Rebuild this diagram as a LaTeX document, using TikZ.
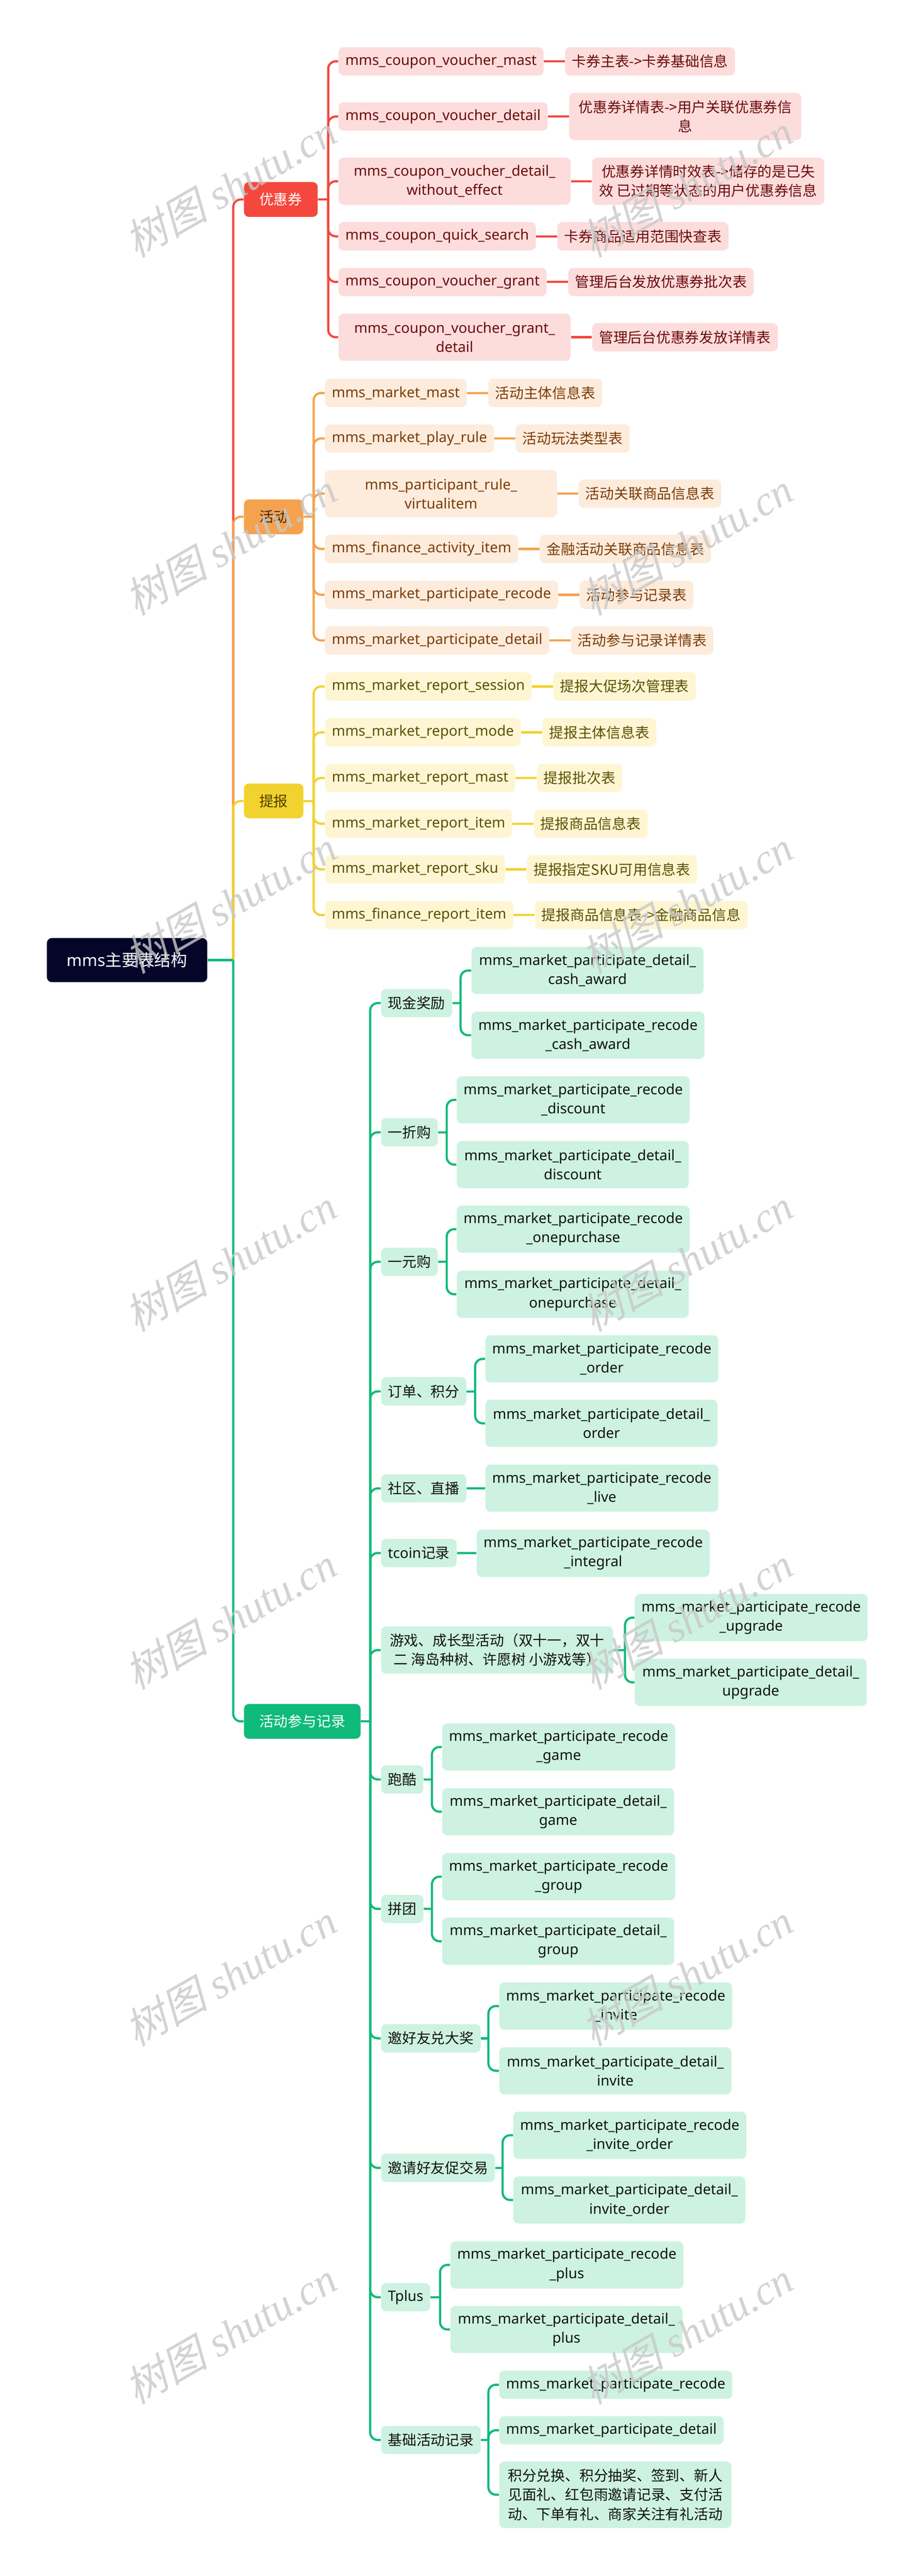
\documentclass[tikz,border=0pt]{standalone}
\usepackage{fontspec}
\setmainfont{Noto Sans}
\newfontfamily\cjk{Noto Sans CJK SC}
\newfontfamily\wmlatin{Liberation Serif}
\newfontfamily\wmcjk[FakeSlant=0.25]{Noto Sans CJK SC}
\usetikzlibrary{positioning}
% branch colours
\definecolor{rootc}{HTML}{05052A}
\definecolor{redmn}{HTML}{F4473D}
\definecolor{redlt}{HTML}{FDDCDC}
\definecolor{redtx}{HTML}{6A0A0A}
\definecolor{ormn}{HTML}{F5A24F}
\definecolor{orlt}{HTML}{FDEBDC}
\definecolor{ortx}{HTML}{7A3D05}
\definecolor{ormntx}{HTML}{3A2A18}
\definecolor{ylmn}{HTML}{F2D22E}
\definecolor{yllt}{HTML}{FEF6D3}
\definecolor{yltx}{HTML}{5C5000}
\definecolor{ylmntx}{HTML}{4A4000}
\definecolor{gnmn}{HTML}{10BA7B}
\definecolor{gnlt}{HTML}{CDF2E2}
\definecolor{gntx}{HTML}{111111}
\definecolor{wmgray}{HTML}{C8C8C8}
\begin{document}
\begin{tikzpicture}[x=1pt, y=-1pt]
    \tikzset{box/.style = {rounded corners=3pt, inner xsep=4.1pt, inner ysep=0pt, minimum height=16.9pt, align=center, anchor=west, font=\fontsize{8.55}{11.45}\selectfont}}
    \tikzset{two/.style = {minimum height=28.2pt, minimum width=138.6pt}}
    \tikzset{three/.style = {minimum height=39.8pt, minimum width=138.6pt}}
    \tikzset{main/.style = {rounded corners=3pt, inner xsep=9.2pt, inner ysep=0pt, minimum height=20.8pt, anchor=west, font=\fontsize{8.55}{11.45}\selectfont\cjk}}
    \tikzset{root/.style = {rounded corners=3pt, fill=rootc, text=white, inner xsep=11.9pt, inner ysep=0pt, minimum height=26.4pt, anchor=west, font=\fontsize{9.8}{12}\selectfont}}
    \tikzset{redleaf/.style = {box, fill=redlt, text=redtx}}
    \tikzset{reddesc/.style = {redleaf, font=\fontsize{8.55}{11.45}\selectfont\cjk}}
    \tikzset{orleaf/.style = {box, fill=orlt, text=ortx}}
    \tikzset{ordesc/.style = {orleaf, font=\fontsize{8.55}{11.45}\selectfont\cjk}}
    \tikzset{ylleaf/.style = {box, fill=yllt, text=yltx}}
    \tikzset{yldesc/.style = {ylleaf, font=\fontsize{8.55}{11.45}\selectfont\cjk}}
    \tikzset{gnleaf/.style = {box, fill=gnlt, text=gntx}}
    \tikzset{gncat/.style = {gnleaf, font=\fontsize{8.55}{11.45}\selectfont\cjk}}
    \tikzset{redline/.style = {draw=redmn, line width=1.3pt}}
    \tikzset{orline/.style = {draw=ormn, line width=1.3pt}}
    \tikzset{ylline/.style = {draw=ylmn, line width=1.3pt}}
    \tikzset{gnline/.style = {draw=gnmn, line width=1.3pt}}
    \tikzset{redlink/.style = {redline, rounded corners=4.5pt}}
    \tikzset{orlink/.style = {orline, rounded corners=4.5pt}}
    \tikzset{yllink/.style = {ylline, rounded corners=4.5pt}}
    \tikzset{gnlink/.style = {gnline, rounded corners=4.5pt}}
    \tikzset{wm/.style = {rotate=30, text=wmgray, opacity=0.8, font=\fontsize{25}{25}\selectfont\wmlatin\itshape}}
    \useasboundingbox (0,0) rectangle (548,1539.3);
    % root
    \node[root] (root) at (27.8,573.7) {mms{\cjk 主要表结构}};
    \coordinate (root-j) at (139.3,573.7);
    % coupon branch
    \node[main, fill=redmn, text=white] (cpn) at (145.5,119.2) {优惠券};
    \coordinate (cpn-j) at (196.0,119.2);
    \node[redleaf] (c1) at (202.0,36.65) {mms\_coupon\_voucher\_mast};
    \node[redleaf] (c2) at (202.0,69.65) {mms\_coupon\_voucher\_detail};
    \node[redleaf, two] (c3) at (202.0,108.3) {mms\_coupon\_voucher\_detail\_\\without\_effect};
    \node[redleaf] (c4) at (202.0,141.2) {mms\_coupon\_quick\_search};
    \node[redleaf] (c5) at (202.0,168.5) {mms\_coupon\_voucher\_grant};
    \node[redleaf, two] (c6) at (202.0,201.5) {mms\_coupon\_voucher\_grant\_\\detail};
    \node[reddesc, right=12.5pt of c1] (c1d) {卡券主表->卡券基础信息};
    \node[reddesc, two, right=12.5pt of c2] (c2d) {优惠券详情表->用户关联优惠券信\\息};
    \node[reddesc, two, right=12.5pt of c3] (c3d) {优惠券详情时效表->储存的是已失\\效 已过期等状态的用户优惠券信息};
    \node[reddesc, right=12.5pt of c4] (c4d) {卡券商品适用范围快查表};
    \node[reddesc, right=12.5pt of c5] (c5d) {管理后台发放优惠券批次表};
    \node[reddesc, right=12.5pt of c6] (c6d) {管理后台优惠券发放详情表};
    % activity branch
    \node[main, fill=ormn, text=ormntx] (act) at (145.5,308.8) {活动};
    \coordinate (act-j) at (187.3,308.8);
    \node[orleaf] (a1) at (193.9,234.8) {mms\_market\_mast};
    \node[orleaf] (a2) at (193.9,262.0) {mms\_market\_play\_rule};
    \node[orleaf, two] (a3) at (193.9,295.0) {mms\_participant\_rule\_\\virtualitem};
    \node[orleaf] (a4) at (193.9,328.0) {mms\_finance\_activity\_item};
    \node[orleaf] (a5) at (193.9,355.4) {mms\_market\_participate\_recode};
    \node[orleaf] (a6) at (193.9,382.7) {mms\_market\_participate\_detail};
    \node[ordesc, right=12.5pt of a1] (a1d) {活动主体信息表};
    \node[ordesc, right=12.5pt of a2] (a2d) {活动玩法类型表};
    \node[ordesc, right=12.5pt of a3] (a3d) {活动关联商品信息表};
    \node[ordesc, right=12.5pt of a4] (a4d) {金融活动关联商品信息表};
    \node[ordesc, right=12.5pt of a5] (a5d) {活动参与记录表};
    \node[ordesc, right=12.5pt of a6] (a6d) {活动参与记录详情表};
    % report branch
    \node[main, fill=ylmn, text=ylmntx] (rpt) at (145.5,478.6) {提报};
    \coordinate (rpt-j) at (187.3,478.6);
    \node[ylleaf] (r1) at (193.9,410.2) {mms\_market\_report\_session};
    \node[ylleaf] (r2) at (193.9,437.6) {mms\_market\_report\_mode};
    \node[ylleaf] (r3) at (193.9,464.9) {mms\_market\_report\_mast};
    \node[ylleaf] (r4) at (193.9,492.2) {mms\_market\_report\_item};
    \node[ylleaf] (r5) at (193.9,519.5) {mms\_market\_report\_sku};
    \node[ylleaf] (r6) at (193.9,546.8) {mms\_finance\_report\_item};
    \node[yldesc, right=12.5pt of r1] (r1d) {提报大促场次管理表};
    \node[yldesc, right=12.5pt of r2] (r2d) {提报主体信息表};
    \node[yldesc, right=12.5pt of r3] (r3d) {提报批次表};
    \node[yldesc, right=12.5pt of r4] (r4d) {提报商品信息表};
    \node[yldesc, right=12.5pt of r5] (r5d) {提报指定SKU可用信息表};
    \node[yldesc, right=12.5pt of r6] (r6d) {提报商品信息表->金融商品信息};
    % participation records branch
    \node[main, fill=gnmn, text=white] (rec) at (145.5,1028.6) {活动参与记录};
    \coordinate (rec-j) at (221.1,1028.6);
    \node[gncat] (cash) at (227.4,599.4) {现金奖励};
    \node[gncat] (disc) at (227.4,676.6) {一折购};
    \node[gncat] (one) at (227.4,754.0) {一元购};
    \node[gncat] (ord) at (227.4,831.4) {订单、积分};
    \node[gncat] (live) at (227.4,889.4) {社区、直播};
    \node[gnleaf] (tcoin) at (227.4,928.0) {tcoin{\cjk 记录}};
    \node[gncat, two] (game) at (227.4,986.0) {游戏、成长型活动（双十一，双十\\二 海岛种树、许愿树 小游戏等）};
    \node[gncat] (park) at (227.4,1063.3) {跑酷};
    \node[gncat] (group) at (227.4,1140.7) {拼团};
    \node[gncat] (invite) at (227.4,1218.0) {邀好友兑大奖};
    \node[gncat] (invord) at (227.4,1295.4) {邀请好友促交易};
    \node[gnleaf] (tplus) at (227.4,1372.7) {Tplus};
    \node[gncat] (base) at (227.4,1458.0) {基础活动记录};
    % junctions of the categories
    \coordinate (cash-j) at (275.1,599.4);
    \coordinate (disc-j) at (266.8,676.6);
    \coordinate (one-j) at (266.8,754.0);
    \coordinate (ord-j) at (283.8,831.4);
    \coordinate (game-j) at (373.3,986.0);
    \coordinate (park-j) at (258.0,1063.3);
    \coordinate (group-j) at (258.0,1140.7);
    \coordinate (invite-j) at (291.7,1218.0);
    \coordinate (invord-j) at (300.2,1295.4);
    \coordinate (tplus-j) at (262.8,1372.7);
    \coordinate (base-j) at (291.7,1458.0);
    % tables of the categories
    \node[gnleaf, two] (cash1) at (281.4,579.9) {mms\_market\_participate\_detail\_\\cash\_award};
    \node[gnleaf, two] (cash2) at (281.4,618.6) {mms\_market\_participate\_recode\\\_cash\_award};
    \node[gnleaf, two] (disc1) at (272.6,657.2) {mms\_market\_participate\_recode\\\_discount};
    \node[gnleaf, two] (disc2) at (272.6,695.9) {mms\_market\_participate\_detail\_\\discount};
    \node[gnleaf, two] (one1) at (272.6,734.5) {mms\_market\_participate\_recode\\\_onepurchase};
    \node[gnleaf, two] (one2) at (272.6,773.4) {mms\_market\_participate\_detail\_\\onepurchase};
    \node[gnleaf, two] (ord1) at (289.7,812.0) {mms\_market\_participate\_recode\\\_order};
    \node[gnleaf, two] (ord2) at (289.7,850.5) {mms\_market\_participate\_detail\_\\order};
    \node[gnleaf, two] (live1) at (289.7,889.2) {mms\_market\_participate\_recode\\\_live};
    \node[gnleaf, two] (tc1) at (284.5,928.2) {mms\_market\_participate\_recode\\\_integral};
    \node[gnleaf, two] (g1) at (378.9,966.6) {mms\_market\_participate\_recode\\\_upgrade};
    \node[gnleaf, two] (g2) at (378.9,1005.3) {mms\_market\_participate\_detail\_\\upgrade};
    \node[gnleaf, two] (p1) at (263.9,1043.9) {mms\_market\_participate\_recode\\\_game};
    \node[gnleaf, two] (p2) at (263.9,1082.6) {mms\_market\_participate\_detail\_\\game};
    \node[gnleaf, two] (gr1) at (263.9,1121.4) {mms\_market\_participate\_recode\\\_group};
    \node[gnleaf, two] (gr2) at (263.9,1160.0) {mms\_market\_participate\_detail\_\\group};
    \node[gnleaf, two] (in1) at (298.0,1198.7) {mms\_market\_participate\_recode\\\_invite};
    \node[gnleaf, two] (in2) at (298.0,1237.4) {mms\_market\_participate\_detail\_\\invite};
    \node[gnleaf, two] (io1) at (306.4,1275.9) {mms\_market\_participate\_recode\\\_invite\_order};
    \node[gnleaf, two] (io2) at (306.4,1314.6) {mms\_market\_participate\_detail\_\\invite\_order};
    \node[gnleaf, two] (tp1) at (268.8,1353.4) {mms\_market\_participate\_recode\\\_plus};
    \node[gnleaf, two] (tp2) at (268.8,1392.0) {mms\_market\_participate\_detail\_\\plus};
    \node[gnleaf] (b1) at (298.0,1425.0) {mms\_market\_participate\_recode};
    \node[gnleaf] (b2) at (298.0,1452.2) {mms\_market\_participate\_detail};
    \node[gncat, three] (b3) at (298.0,1490.7) {积分兑换、积分抽奖、签到、新人\\见面礼、红包雨邀请记录、支付活\\动、下单有礼、商家关注有礼活动};
    % edges of the coupon branch
    \draw[redlink] (root-j) |- (cpn);
    \draw[redline] (cpn) -- (cpn-j);
    \draw[redlink] (cpn-j) |- (c1);
    \draw[redlink] (cpn-j) |- (c2);
    \draw[redlink] (cpn-j) |- (c3);
    \draw[redlink] (cpn-j) |- (c4);
    \draw[redlink] (cpn-j) |- (c5);
    \draw[redlink] (cpn-j) |- (c6);
    \draw[redline] (c1) -- (c1d);
    \draw[redline] (c2) -- (c2d);
    \draw[redline] (c3) -- (c3d);
    \draw[redline] (c4) -- (c4d);
    \draw[redline] (c5) -- (c5d);
    \draw[redline] (c6) -- (c6d);
    % edges of the activity branch
    \draw[orlink] (root-j) |- (act);
    \draw[orline] (act) -- (act-j);
    \draw[orlink] (act-j) |- (a1);
    \draw[orlink] (act-j) |- (a2);
    \draw[orlink] (act-j) |- (a3);
    \draw[orlink] (act-j) |- (a4);
    \draw[orlink] (act-j) |- (a5);
    \draw[orlink] (act-j) |- (a6);
    \draw[orline] (a1) -- (a1d);
    \draw[orline] (a2) -- (a2d);
    \draw[orline] (a3) -- (a3d);
    \draw[orline] (a4) -- (a4d);
    \draw[orline] (a5) -- (a5d);
    \draw[orline] (a6) -- (a6d);
    % edges of the report branch
    \draw[yllink] (root-j) |- (rpt);
    \draw[ylline] (rpt) -- (rpt-j);
    \draw[yllink] (rpt-j) |- (r1);
    \draw[yllink] (rpt-j) |- (r2);
    \draw[yllink] (rpt-j) |- (r3);
    \draw[yllink] (rpt-j) |- (r4);
    \draw[yllink] (rpt-j) |- (r5);
    \draw[yllink] (rpt-j) |- (r6);
    \draw[ylline] (r1) -- (r1d);
    \draw[ylline] (r2) -- (r2d);
    \draw[ylline] (r3) -- (r3d);
    \draw[ylline] (r4) -- (r4d);
    \draw[ylline] (r5) -- (r5d);
    \draw[ylline] (r6) -- (r6d);
    % edges of the records branch
    \draw[gnlink] (root-j) |- (rec);
    \draw[gnline] (root) -- (root-j);
    \draw[gnline] (rec) -- (rec-j);
    \draw[gnlink] (rec-j) |- (cash);
    \draw[gnlink] (rec-j) |- (disc);
    \draw[gnlink] (rec-j) |- (one);
    \draw[gnlink] (rec-j) |- (ord);
    \draw[gnlink] (rec-j) |- (live);
    \draw[gnlink] (rec-j) |- (tcoin);
    \draw[gnlink] (rec-j) |- (game);
    \draw[gnlink] (rec-j) |- (park);
    \draw[gnlink] (rec-j) |- (group);
    \draw[gnlink] (rec-j) |- (invite);
    \draw[gnlink] (rec-j) |- (invord);
    \draw[gnlink] (rec-j) |- (tplus);
    \draw[gnlink] (rec-j) |- (base);
    \draw[gnline] (cash) -- (cash-j);
    \draw[gnlink] (cash-j) |- (cash1);
    \draw[gnlink] (cash-j) |- (cash2);
    \draw[gnline] (disc) -- (disc-j);
    \draw[gnlink] (disc-j) |- (disc1);
    \draw[gnlink] (disc-j) |- (disc2);
    \draw[gnline] (one) -- (one-j);
    \draw[gnlink] (one-j) |- (one1);
    \draw[gnlink] (one-j) |- (one2);
    \draw[gnline] (ord) -- (ord-j);
    \draw[gnlink] (ord-j) |- (ord1);
    \draw[gnlink] (ord-j) |- (ord2);
    \draw[gnline] (live) -- (live1);
    \draw[gnline] (tcoin) -- (tc1);
    \draw[gnline] (game) -- (game-j);
    \draw[gnlink] (game-j) |- (g1);
    \draw[gnlink] (game-j) |- (g2);
    \draw[gnline] (park) -- (park-j);
    \draw[gnlink] (park-j) |- (p1);
    \draw[gnlink] (park-j) |- (p2);
    \draw[gnline] (group) -- (group-j);
    \draw[gnlink] (group-j) |- (gr1);
    \draw[gnlink] (group-j) |- (gr2);
    \draw[gnline] (invite) -- (invite-j);
    \draw[gnlink] (invite-j) |- (in1);
    \draw[gnlink] (invite-j) |- (in2);
    \draw[gnline] (invord) -- (invord-j);
    \draw[gnlink] (invord-j) |- (io1);
    \draw[gnlink] (invord-j) |- (io2);
    \draw[gnline] (tplus) -- (tplus-j);
    \draw[gnlink] (tplus-j) |- (tp1);
    \draw[gnlink] (tplus-j) |- (tp2);
    \draw[gnline] (base) -- (base-j);
    \draw[gnlink] (base-j) |- (b1);
    \draw[gnlink] (base-j) |- (b2);
    \draw[gnlink] (base-j) |- (b3);
    % watermarks, left column
    \node[wm] (wm1) at (137.5,111) {{\wmcjk 树图} shutu.cn};
    \node[wm] (wm2) at (137.5,325) {{\wmcjk 树图} shutu.cn};
    \node[wm] (wm3) at (137.5,539) {{\wmcjk 树图} shutu.cn};
    \node[wm] (wm4) at (137.5,753) {{\wmcjk 树图} shutu.cn};
    \node[wm] (wm5) at (137.5,967) {{\wmcjk 树图} shutu.cn};
    \node[wm] (wm6) at (137.5,1180) {{\wmcjk 树图} shutu.cn};
    \node[wm] (wm7) at (137.5,1394) {{\wmcjk 树图} shutu.cn};
    % watermarks, right column
    \node[wm] (wm8) at (410.1,111) {{\wmcjk 树图} shutu.cn};
    \node[wm] (wm9) at (410.1,325) {{\wmcjk 树图} shutu.cn};
    \node[wm] (wm10) at (410.1,539) {{\wmcjk 树图} shutu.cn};
    \node[wm] (wm11) at (410.1,753) {{\wmcjk 树图} shutu.cn};
    \node[wm] (wm12) at (410.1,967) {{\wmcjk 树图} shutu.cn};
    \node[wm] (wm13) at (410.1,1180) {{\wmcjk 树图} shutu.cn};
    \node[wm] (wm14) at (410.1,1394) {{\wmcjk 树图} shutu.cn};
\end{tikzpicture}
\end{document}
